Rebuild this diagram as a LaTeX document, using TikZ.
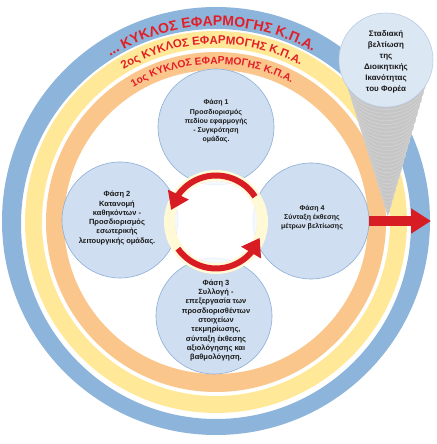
\documentclass[tikz,border=0pt]{standalone}
\usepackage{fontspec}
\setmainfont{Liberation Sans}
\usetikzlibrary{arrows.meta,bending,decorations.text,calc}
\definecolor{ringblue}{RGB}{141,180,218}
\definecolor{ringyellow}{RGB}{255,233,153}
\definecolor{ringorange}{RGB}{251,198,140}
\definecolor{phasefill}{RGB}{207,222,240}
\definecolor{phaseline}{RGB}{140,175,215}
\definecolor{goalfill}{RGB}{220,231,244}
\definecolor{goalline}{RGB}{185,205,230}
\definecolor{cream}{RGB}{255,249,214}
\definecolor{arrred}{RGB}{216,28,36}
\definecolor{txtred}{RGB}{226,30,40}
\definecolor{conegray}{RGB}{198,198,198}
\definecolor{conestripe}{RGB}{216,216,216}
\begin{document}
\begin{tikzpicture}[x=1pt,y=1pt,
  phase/.style={circle, draw=phaseline, line width=0.6pt, fill=phasefill, minimum size=116pt, inner sep=0pt},
  phasetext/.style={align=center, font=\fontsize{7}{9.3}\selectfont\bfseries, text=black!90, inner sep=0pt},
  bigphasetext/.style={phasetext, font=\fontsize{7.5}{9.3}\selectfont\bfseries},
  goal/.style={circle, draw=goalline, line width=0.6pt, fill=goalfill, minimum size=94pt, inner sep=0pt},
  goaltext/.style={align=center, font=\fontsize{8}{11}\selectfont\bfseries, text=black!90, inner sep=0pt},
  cyclearrow/.style={arrred, line width=6pt, -{Triangle[width=22pt,length=17pt]}},
  bigarrow/.style={arrred, line width=10pt, -{Triangle[width=24pt,length=20pt]}},
  ringtext/.style={decorate, decoration={text along path, text align=center, text color=txtred, text={#1}}}
]
\useasboundingbox (0,0) rectangle (436,444);
\fill[white] (0,0) rectangle (436,444);
\coordinate (C) at (216,222);
% rings
\fill[ringblue, even odd rule] (216,223) circle (214pt) (216,220) circle (195pt);
\fill[ringyellow, even odd rule] (C) circle (191pt) (C) circle (174pt);
\fill[ringorange, even odd rule] (C) circle (170pt) (C) circle (152pt);
% ring texts
\path[ringtext={|\fontsize{14}{14}\selectfont\bfseries|... ΚΥΚΛΟΣ ΕΦΑΡΜΟΓΗΣ Κ.Π.Α.}]
  ([shift={(161.5:196pt)}]C) arc (161.5:21.5:196pt);
\path[ringtext={|\fontsize{11.5}{11.5}\selectfont\bfseries|2ος ΚΥΚΛΟΣ ΕΦΑΡΜΟΓΗΣ Κ.Π.Α.}]
  ([shift={(161.5:178pt)}]C) arc (161.5:21.5:178pt);
\path[ringtext={|\fontsize{10.3}{10.3}\selectfont\bfseries|1ος ΚΥΚΛΟΣ ΕΦΑΡΜΟΓΗΣ Κ.Π.Α.}]
  ([shift={(161.5:158pt)}]C) arc (161.5:21.5:158pt);
% cone
\coordinate (Tip) at (388,227);
\begin{scope}
  \clip (339,384) -- (Tip) -- (433,384) arc (0:180:47pt) -- cycle;
  \fill[conegray] (339,384) -- (Tip) -- (433,384) arc (0:180:47pt) -- cycle;
  \foreach \i in {1,...,30} {
    \pgfmathsetmacro{\tt}{\i/31}
    \pgfmathsetmacro{\cx}{386+2*\tt}
    \pgfmathsetmacro{\cy}{384-157*\tt}
    \pgfmathsetmacro{\hw}{47*(1-\tt)}
    \pgfmathsetmacro{\hh}{0.9*\hw}
    \draw[conestripe, line width=0.4pt] (\cx-\hw,\cy) arc (180:360:\hw pt and \hh pt);
  }
\end{scope}
\node[goal] (G) at (386,384) {};
\node[goaltext] (Gt) at (386,382) {Σταδιακή\\βελτίωση\\της\\Διοικητικής\\Ικανότητας\\του Φορέα};
% phase circles
\node[phase] (P1) at (216,317) {};
\node[phase] (P2) at (120,224) {};
\node[phase] (P3) at (214,128) {};
\node[phase] (P4) at (311,223) {};
% centre ring
\fill[cream, even odd rule] (C) circle (52pt) (C) circle (41pt);
\fill[white, fill opacity=0.8] (C) circle (41pt);
% texts
\node[phasetext] (P1t) at (216,322.5) {Φάση 1\\Προσδιορισμός\\πεδίου εφαρμογής\\- Συγκρότηση\\ομάδας.};
\node[bigphasetext] (P2t) at (117,226) {Φάση 2\\Κατανομή\\καθηκόντων -\\Προσδιορισμός\\εσωτερικής\\λειτουργικής ομάδας.};
\node[bigphasetext] (P3t) at (216,123.5) {Φάση 3\\Συλλογή -\\επεξεργασία των\\προσδιορισθέντων\\στοιχείων\\τεκμηρίωσης,\\σύνταξη έκθεσης\\αξιολόγησης και\\βαθμολόγηση.};
\node[phasetext] (P4t) at (312,226.5) {Φάση 4\\Σύνταξη έκθεσης\\μέτρων βελτίωσης};
% cycle arrows
\draw[cyclearrow] ([shift={(33:46.5pt)}]C) arc (33:165:46.5pt);
\draw[cyclearrow] ([shift={(215:46.5pt)}]C) arc (215:340:46.5pt);
% big arrow
\coordinate (BigTip) at (431,223);
\draw[bigarrow] (P4.east) -- (BigTip);
\end{tikzpicture}
\end{document}
